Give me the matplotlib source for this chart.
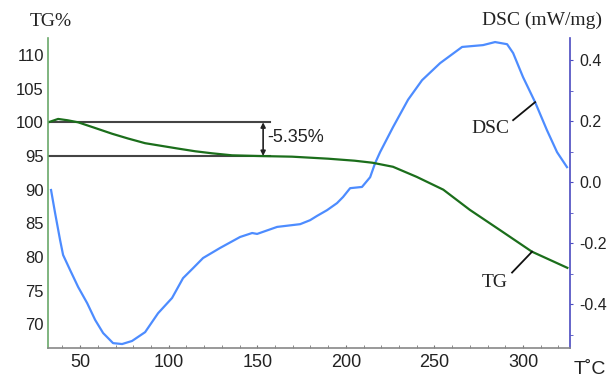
import matplotlib
matplotlib.use("Agg")
import matplotlib.pyplot as plt
from matplotlib.ticker import MultipleLocator

# ---- data ----
T_tg = [32, 37.6, 43, 48.9, 58, 68.1, 77, 86.7, 96, 105.3, 115, 124.5, 135.8,
        150.5, 169.6, 190, 205, 215, 226.6, 240, 255, 270, 287, 305, 325]
tg = [100.0, 100.5, 100.3, 100.0, 99.2, 98.3, 97.6, 96.9, 96.5, 96.1, 95.7,
      95.4, 95.1, 95.0, 94.9, 94.6, 94.3, 94.0, 93.4, 91.9, 90.0, 87.0, 84.0,
      80.8, 78.4]

T_dsc = [33.6, 35.9, 38.7, 40.4, 44.4, 48.9, 54.0, 58.5, 63.0, 68.6, 73.7,
         79.3, 86.7, 94.0, 101.9, 108.1, 113.8, 119.4, 129.0, 140.3, 147.1,
         149.9, 161.2, 174.2, 179.8, 183.7, 189.4, 195.0, 198.4, 202.4, 209.1,
         213.7, 216.5, 219.3, 226.6, 235.1, 243, 253.2, 265.6, 277.4, 284.2,
         291, 294.4, 300, 306.8, 313.5, 319.2, 324.8]
dsc = [-0.026, -0.102, -0.190, -0.239, -0.289, -0.344, -0.397, -0.452, -0.495,
       -0.528, -0.531, -0.521, -0.492, -0.430, -0.380, -0.315, -0.282, -0.249,
       -0.216, -0.180, -0.167, -0.170, -0.147, -0.138, -0.125, -0.111, -0.092,
       -0.069, -0.049, -0.020, -0.016, 0.016, 0.062, 0.098, 0.18, 0.27, 0.334,
       0.39, 0.443, 0.449, 0.459, 0.452, 0.423, 0.344, 0.262, 0.17, 0.098,
       0.049]

tg_ticks = [70, 75, 80, 85, 90, 95, 100, 105, 110]
dsc_ticks = [-0.4, -0.2, 0.0, 0.2, 0.4]
t_ticks = [50, 100, 150, 200, 250, 300]

GREEN = "#1b6e1b"
BLUE = "#4d8cff"
SANS = "Liberation Sans"
SERIF = "Liberation Serif"
INK = "#222222"

fig = plt.figure(figsize=(6.08, 3.81), dpi=100)
ax = fig.add_axes([0.079, 0.0866, 0.8585, 0.8134])
ax2 = ax.twinx()

ax2.plot(T_dsc, dsc, color=BLUE, lw=1.6)
ax.plot(T_tg, tg, color=GREEN, lw=1.6)
ax.set_zorder(ax2.get_zorder() + 1)
ax.patch.set_visible(False)

ax.set_xlim(31.9, 326.5)
ax.set_ylim(66.5, 112.5)
ax2.set_ylim(-0.544, 0.472)

# spines
for a in (ax, ax2):
    a.spines["top"].set_visible(False)
ax.spines["right"].set_visible(False)
ax2.spines["left"].set_visible(False)
ax2.spines["bottom"].set_visible(False)
ax.spines["left"].set_color("#6aa86a")
ax.spines["bottom"].set_color("#888888")
ax2.spines["right"].set_color("#4a4ac0")
ax.spines["left"].set_linewidth(1.2)
ax.spines["bottom"].set_linewidth(1.2)
ax2.spines["right"].set_linewidth(1.2)

ax.set_yticks(tg_ticks)
ax.set_yticklabels([str(v) for v in tg_ticks], fontsize=12, family=SANS, color=INK)
ax.tick_params(axis="y", length=0, pad=3)

ax.set_xticks(t_ticks)
ax.set_xticklabels([str(v) for v in t_ticks], fontsize=13, family=SANS, color=INK)
ax.xaxis.set_minor_locator(MultipleLocator(10))
ax.tick_params(axis="x", which="both", direction="in", length=2.5, color="#777777", pad=4)

ax2.set_yticks(dsc_ticks)
ax2.set_yticklabels([f"{v:.1f}" for v in dsc_ticks], fontsize=11.5, family=SANS, color=INK)
ax2.yaxis.set_minor_locator(MultipleLocator(0.1))
ax2.tick_params(axis="y", which="both", direction="out", length=2, color="#4a4ac0", pad=5)

# axis titles
fig.text(51 / 608, 1 - 22 / 381, "TG%", fontsize=14, family=SERIF, color=INK,
         ha="center", va="center")
fig.text(602 / 608, 1 - 20 / 381, "DSC (mW/mg)", fontsize=14, family=SERIF,
         color=INK, ha="right", va="center")
fig.text(590 / 608, 1 - 369 / 381, "T˚C", fontsize=14, family=SANS, color=INK,
         ha="center", va="center")

# mass-loss annotation
ax.plot([31.9, 157], [100, 100], color="#444444", lw=1.5, zorder=1)
ax.plot([31.9, 157], [95, 95], color="#444444", lw=1.5, zorder=1)
ax.annotate("", xy=(153.3, 95), xytext=(153.3, 100),
            arrowprops=dict(arrowstyle="<|-|>", color="#222222", lw=1.2,
                            mutation_scale=7, shrinkA=0, shrinkB=0))
ax.text(155.5, 97.8, "-5.35%", fontsize=13, family=SANS, color=INK,
        ha="left", va="center")

# curve labels
ax2.plot([294.4, 306.8], [0.203, 0.262], color="#111111", lw=1.3)
ax2.text(281.4, 0.177, "DSC", fontsize=14, family=SERIF, color=INK,
         ha="center", va="center")
ax.plot([293.8, 305.1], [77.7, 80.8], color="#111111", lw=1.3)
ax.text(284.2, 76.2, "TG", fontsize=14, family=SERIF, color=INK,
        ha="center", va="center")

fig.savefig("out.png", dpi=100, facecolor="white")
